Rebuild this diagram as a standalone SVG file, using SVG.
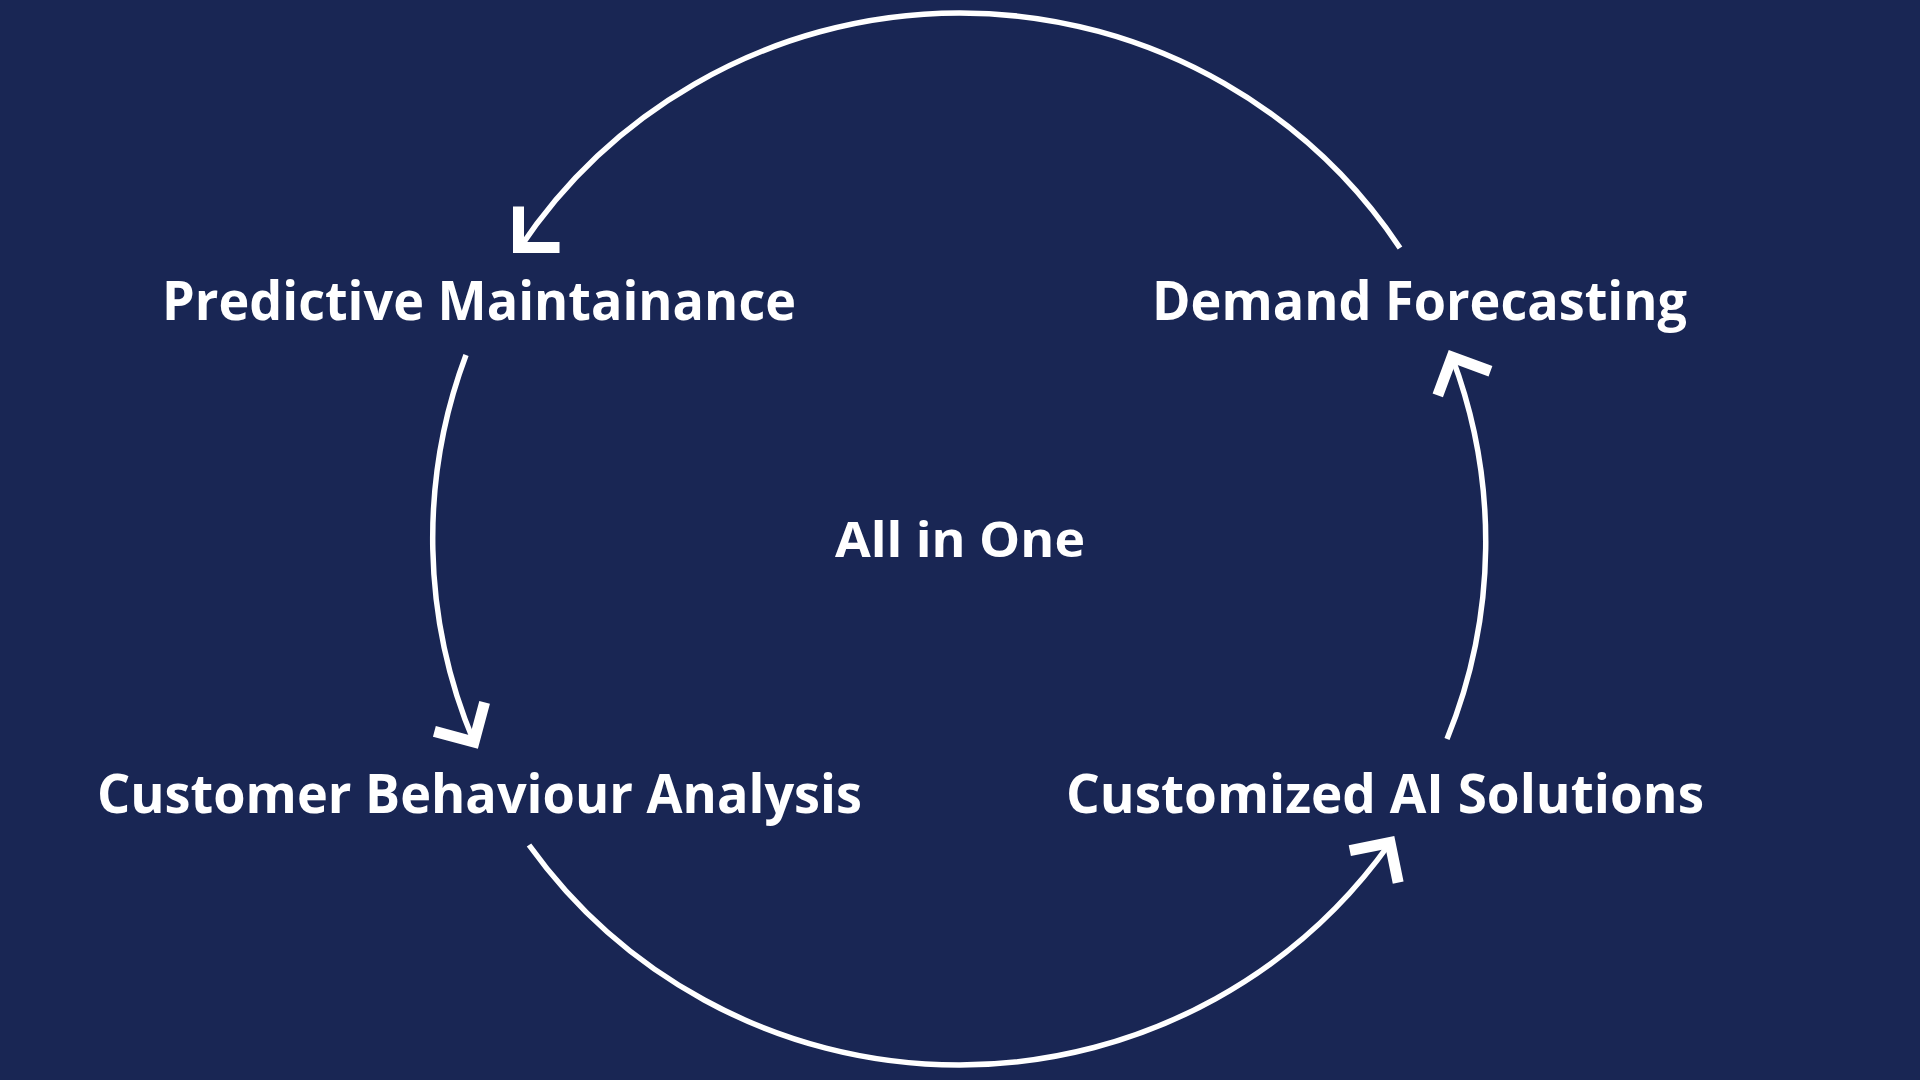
<svg xmlns="http://www.w3.org/2000/svg" width="1920" height="1080" viewBox="0 0 1920 1080">
  <style>
    .lbl { font-family: "Open Sans", "Liberation Sans", sans-serif; font-weight: 700; fill: #ffffff; }
    .arc { fill: none; stroke: #ffffff; stroke-width: 5.5; }
    .head { fill: none; stroke: #ffffff; stroke-width: 11; stroke-linejoin: miter; stroke-miterlimit: 4; stroke-linecap: butt; }
  </style>
  <defs>
    <path id="chev" d="M -29,-29 L 0,0 L -29,29"/>
  </defs>
  <rect width="1920" height="1080" fill="#192654"/>
  <g id="connectors">
    <path class="arc" d="M 1400,248 A 528 525 0 0 0 519,249"/>
    <use href="#chev" class="head" transform="translate(518.5,247.5) rotate(135)"/>
    <path class="arc" d="M 466,355 A 528 525 0 0 0 474,742"/>
    <use href="#chev" class="head" transform="translate(474,742) rotate(60)"/>
    <path class="arc" d="M 529,845 A 528 525 0 0 0 1390,843"/>
    <use href="#chev" class="head" transform="translate(1390,842.5) rotate(-56.5)"/>
    <path class="arc" d="M 1447,739 A 528 525 0 0 0 1452,357"/>
    <use href="#chev" class="head" transform="translate(1452,357) rotate(-114.7)"/>
  </g>
  <g id="node-predictive">
    <text class="lbl" x="162" y="320" font-size="53" textLength="634" lengthAdjust="spacingAndGlyphs">Predictive Maintainance</text>
  </g>
  <g id="node-demand">
    <text class="lbl" x="1152" y="320" font-size="53" textLength="535" lengthAdjust="spacingAndGlyphs">Demand Forecasting</text>
  </g>
  <g id="node-center">
    <text class="lbl" x="835" y="557" font-size="48" textLength="250" lengthAdjust="spacingAndGlyphs">All in One</text>
  </g>
  <g id="node-customer">
    <text class="lbl" x="97" y="813" font-size="53" textLength="765" lengthAdjust="spacingAndGlyphs">Customer Behaviour Analysis</text>
  </g>
  <g id="node-customized">
    <text class="lbl" x="1066" y="813" font-size="53" textLength="638" lengthAdjust="spacingAndGlyphs">Customized AI Solutions</text>
  </g>
</svg>
